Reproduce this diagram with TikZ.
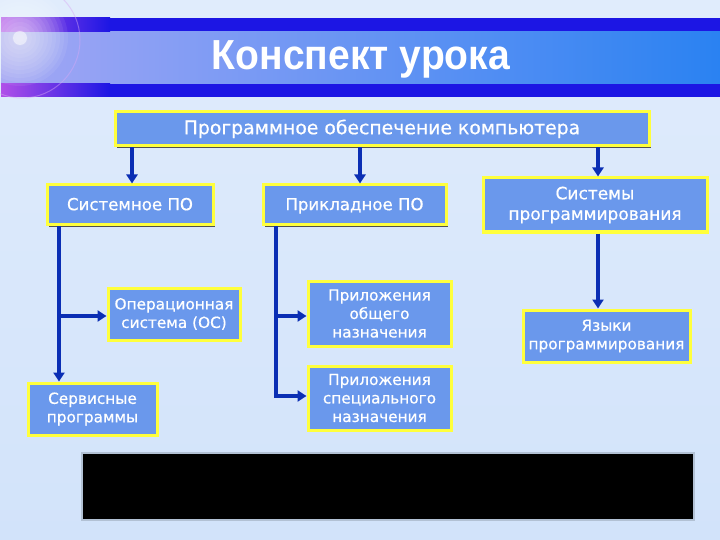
\documentclass[tikz,border=0pt]{standalone}
\usepackage{fontspec}
\setmainfont[FakeBold=0.6]{DejaVu Sans}
\newfontfamily\titlefont{Liberation Sans}
\usetikzlibrary{arrows.meta,shadows}
\definecolor{bgtop}{HTML}{E0ECFC}
\definecolor{bgbot}{HTML}{D2E3FA}
\definecolor{banddark}{HTML}{1C16E4}
\definecolor{bandmid}{HTML}{2A82F2}
\definecolor{boxfill}{HTML}{6A98EC}
\definecolor{boxedge}{HTML}{FFFF3C}
\definecolor{arrowblue}{HTML}{0A2EB4}
\definecolor{flare}{HTML}{B050E8}
\tikzset{
  box/.style={draw=boxedge, line width=3pt, fill=boxfill, text=white,
    align=center, inner sep=2pt, font=\fontsize{15.3}{18.5}\selectfont,
    drop shadow={shadow xshift=1.8pt, shadow yshift=-1.8pt, fill=black!75, opacity=0.9}},
  bigbox/.style={box, font=\fontsize{16.6}{20}\selectfont},
  oneline/.style={text height=2.1ex, text depth=0.2ex},
  arr/.style={draw=arrowblue, line width=4pt, -{Triangle[width=11pt,length=9pt]}},
  ln/.style={draw=arrowblue, line width=4pt}
}
\begin{document}
\begin{tikzpicture}[x=1pt,y=-1pt]
\useasboundingbox (0,0) rectangle (720,540);
% background
\shade[top color=bgtop, bottom color=bgbot] (0,0) rectangle (720,540);
% title bar
\fill[banddark] (1,18) rectangle (720,97);
\shade[left color=bandmid!55!flare!60!white, right color=bandmid] (1,32) rectangle (720,84);
\shade[left color=flare, right color=banddark] (1,18) rectangle (110,32);
\shade[left color=flare, right color=banddark] (1,84) rectangle (110,97);
\foreach \r in {48,44,...,4} {\fill[white, opacity=0.07] (20,38) circle (\r);}
\fill[white, opacity=0.5] (20,38) circle (7);
\draw[flare!50!white, line width=1pt, opacity=0.45] (22,40) circle (58);
\node[text=white, font=\titlefont\bfseries\fontsize{42}{46}\selectfont] (title) at (361,59) {\addfontfeature{FakeStretch=0.93}Конспект урока};
% nodes
\node[box, oneline, minimum width=534, minimum height=34, font=\fontsize{18.8}{22}\selectfont] (top) at (382,129) {Программное обеспечение компьютера};
\node[bigbox, oneline, minimum width=166, minimum height=40] (sys) at (130,205) {Системное ПО};
\node[bigbox, oneline, minimum width=183, minimum height=40] (app) at (354.5,205) {Прикладное ПО};
\node[bigbox, minimum width=224, minimum height=54, font=\fontsize{17}{20.5}\selectfont] (prog) at (595,205) {Системы\\программирования};
\node[box, minimum width=132, minimum height=52] (os) at (174,314) {Операционная\\система (ОС)};
\node[box, minimum width=129, minimum height=52] (serv) at (92.5,409) {Сервисные\\программы};
\node[box, minimum width=143, minimum height=65] (gen) at (379.5,313.5) {Приложения\\общего\\назначения};
\node[box, minimum width=143, minimum height=64] (spec) at (379.5,398) {Приложения\\специального\\назначения};
\node[box, minimum width=167, minimum height=52] (lang) at (606.5,336) {Языки\\программирования};
% black panel
\node[draw=black!15!bgbot, line width=1.2pt, fill=black, minimum width=612, minimum height=67, inner sep=0] (panel) at (388,486.5) {};
% coordinates
\coordinate (sa) at (132,0);
\coordinate (aa) at (360,0);
\coordinate (pa) at (598,0);
\coordinate (sv) at (59,0);
\coordinate (av) at (276,0);
\coordinate (b1) at (0,316);
\coordinate (b2) at (0,396);
% connectors
\draw[arr] (top.south -| sa) -- (sys.north -| sa);
\draw[arr] (top.south -| aa) -- (app.north -| aa);
\draw[arr] (top.south -| pa) -- (prog.north -| pa);
\draw[arr] (sys.south -| sv) -- (serv.north -| sv);
\draw[arr] (sv |- b1) -- (os.west |- b1);
\draw[ln] (app.south -| av) -- ([yshift=-2pt]av |- b2);
\draw[arr] (av |- b1) -- (gen.west |- b1);
\draw[arr] ([xshift=-2pt]av |- b2) -- (spec.west |- b2);
\draw[arr] (prog.south -| pa) -- (lang.north -| pa);
\end{tikzpicture}
\end{document}
